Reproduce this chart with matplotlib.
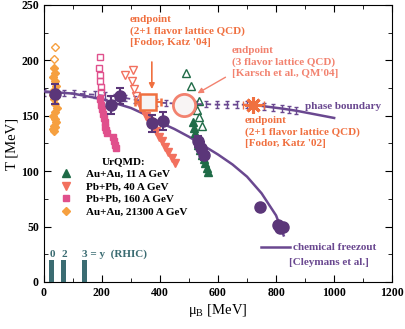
import numpy as np
import matplotlib
matplotlib.use("Agg")
import matplotlib.pyplot as plt
from matplotlib.lines import Line2D

plt.rcParams['font.family'] = ['Liberation Serif', 'DejaVu Serif']
plt.rcParams['font.weight'] = 'bold'
plt.rcParams['mathtext.fontset'] = 'custom'
plt.rcParams['mathtext.rm'] = 'Liberation Serif:bold'

# colours
PURPLE = '#5b3679'
LINE_PURPLE = '#6a4890'
GREEN = '#1f6b47'
RED = '#f2705e'
PINK = '#e0508c'
ORANGE = '#f6a040'
TEAL = '#3b6c72'
ENDPT = '#f07040'
KARSCH = '#f2826f'

# UrQMD Au+Au 21300 A GeV (RHIC)
rhic_open_mu = [38, 35]
rhic_open_T = [212, 201]
rhic_mu = [35, 40, 32, 38, 43, 36, 30, 34, 40, 44, 38, 33, 37, 42, 36, 31, 35, 40]
rhic_T = [193, 189, 185, 181, 177, 173, 169, 165, 161, 157, 153, 150, 147, 144, 141, 138, 136, 140]

# UrQMD Pb+Pb 160 A GeV
sps160_open_mu = [193, 189, 193, 195, 196, 196]
sps160_open_T = [203, 193, 187, 181, 176, 171]
sps160_mu = [195, 197, 200, 203, 206, 209, 212, 215, 218, 238, 241, 244, 247]
sps160_T = [165, 160, 156, 152, 148, 144, 140, 137, 134, 131, 127, 124, 121]

# UrQMD Pb+Pb 40 A GeV
sps40_open_mu = [279, 308, 303, 309, 318]
sps40_open_T = [187, 191, 181, 174, 168]
sps40_mu = [330, 341, 352, 363, 374, 385, 396, 407, 418, 429, 440, 451]
sps40_T = [160, 155, 150, 145, 141, 136, 131, 127, 122, 117, 112, 107]

# UrQMD Au+Au 11 A GeV
ags_open_mu = [490, 507, 533, 527, 536, 545]
ags_open_T = [189, 177, 163, 155, 149, 141]
ags_mu = [514, 516, 520, 526, 532, 538, 544, 550, 556, 562, 567]
ags_T = [144, 139, 134, 129, 124, 119, 115, 111, 107, 103, 99]

# chemical freeze-out points
fo_mu = [38, 232, 262, 372, 410, 532, 542, 552, 745, 805, 815, 825]
fo_T = [170, 160, 168, 143, 145, 127, 121, 115, 68, 51, 49, 50]
fo_err = [9, 8, 7, 8, 8, 5, 5, 5, 0, 0, 0, 0]

# chemical freeze-out curve [Cleymans et al.]
cf_mu = [0, 100, 200, 300, 350, 400, 450, 500, 550, 600, 650, 700, 750, 800, 826]
cf_T = [172, 170, 165, 157, 151, 144, 138, 131, 123, 115, 106, 95, 80, 60, 42]

# phase boundary (lattice)
pb_mu = [0, 35, 70, 105, 140, 175, 210, 245, 280, 315, 350, 385, 420, 455, 490,
         525, 560, 595, 630, 665, 700, 725]
pb_T = [171, 171, 170.5, 170, 169.5, 169, 168, 167, 166, 164.5, 163, 162, 161.5, 161, 160.5,
        160.5, 160.5, 160, 160, 160, 160, 160]
pb2_mu = [725, 760, 790, 820, 845, 870, 1000]
pb2_T = [160, 158.5, 157.5, 156.5, 155.5, 154.5, 148]

# critical endpoints
fk04 = (360, 162, 45)
karsch = (483, 160)
fk02 = (722, 160, 35)

# RHIC rapidity bins
bar_mu = [25, 67, 140]
bar_T = [20, 20, 20]

fig = plt.figure(figsize=(4.06, 3.29), dpi=100)
ax = fig.add_subplot(111)
fig.subplots_adjust(left=0.108, right=0.966, top=0.985, bottom=0.143)

# phase boundary
ax.plot(pb_mu, pb_T, color=LINE_PURPLE, lw=1.3, ls=(0, (3, 2)), zorder=2)
ax.plot(pb2_mu, pb2_T, color=LINE_PURPLE, lw=1.8, zorder=2)
ax.errorbar(pb_mu[:-1] + pb2_mu[1:-1], pb_T[:-1] + pb2_T[1:-1], yerr=3, fmt='none',
            ecolor=LINE_PURPLE, elinewidth=1, capsize=1.5, capthick=1, zorder=2)

# freeze-out curve
ax.plot(cf_mu, cf_T, color=LINE_PURPLE, lw=1.8, zorder=3)

# UrQMD
ax.plot(rhic_open_mu, rhic_open_T, 'D', ms=4.5, mfc='none', mec=ORANGE, mew=1, zorder=4)
ax.plot(rhic_mu, rhic_T, 'D', ms=4.5, color=ORANGE, zorder=4)
ax.plot(sps160_open_mu, sps160_open_T, 's', ms=4.5, mfc='none', mec=PINK, mew=1, zorder=4)
ax.plot(sps160_mu, sps160_T, 's', ms=4.5, color=PINK, zorder=4)
ax.plot(sps40_open_mu, sps40_open_T, 'v', ms=6, mfc='none', mec=RED, mew=1, zorder=4)
ax.plot(sps40_mu, sps40_T, 'v', ms=6, color=RED, zorder=4)
ax.plot(ags_open_mu, ags_open_T, '^', ms=6, mfc='none', mec=GREEN, mew=1, zorder=4)
ax.plot(ags_mu, ags_T, '^', ms=6, color=GREEN, zorder=4)

# freeze-out data
ax.errorbar(fo_mu, fo_T, yerr=fo_err, fmt='o', ms=8, color=PURPLE, ecolor=PURPLE,
            elinewidth=1.5, capsize=3, capthick=1.5, zorder=5)

# endpoints
ax.errorbar(fk04[0], fk04[1], xerr=fk04[2], fmt='s', ms=11, mfc='#f6f4f4', mec=ENDPT,
            mew=1.8, ecolor=ENDPT, elinewidth=1.5, capsize=3, zorder=6)
ax.plot(karsch[0], karsch[1], 'o', ms=16, mfc='#f8f4f4', mec=KARSCH, mew=2, zorder=6)
ax.errorbar(fk02[0], fk02[1], xerr=fk02[2], fmt='none', ecolor=ENDPT,
            elinewidth=1.5, capsize=3, zorder=6)
ax.plot(fk02[0], fk02[1], marker=(8, 2, 0), ms=12, mec=ENDPT, mew=2.2, zorder=7)
ax.plot(fk02[0], fk02[1], 'o', ms=5, color=ENDPT, zorder=7)

# RHIC bins
ax.bar(bar_mu, bar_T, width=17, color=TEAL, zorder=3)
ax.text(31, 20.5, '0', color=TEAL, fontsize=8, ha='center', va='bottom')
ax.text(72, 20.5, '2', color=TEAL, fontsize=8, ha='center', va='bottom')
ax.text(131, 20.5, '3 = y  (RHIC)', color=TEAL, fontsize=8, ha='left', va='bottom')

# annotations
ax.text(297, 241, "endpoint\n(2+1 flavor lattice QCD)\n[Fodor, Katz '04]",
        color=ENDPT, fontsize=8, va='top', ha='left', linespacing=1.3)
ax.annotate('', xy=(372, 171.5), xytext=(372, 201),
            arrowprops=dict(arrowstyle='-|>', color=ENDPT, lw=1.2, mutation_scale=8))
ax.text(648, 213, "endpoint\n(3 flavor lattice QCD)\n[Karsch et al., QM'04]",
        color=KARSCH, fontsize=8, va='top', ha='left', linespacing=1.3)
ax.annotate('', xy=(521, 169), xytext=(634, 186),
            arrowprops=dict(arrowstyle='-|>', color=KARSCH, lw=1, mutation_scale=8))
ax.text(693, 150, "endpoint\n(2+1 flavor lattice QCD)\n[Fodor, Katz '02]",
        color=ENDPT, fontsize=8, va='top', ha='left', linespacing=1.3)
ax.text(900, 158, 'phase boundary', color=LINE_PURPLE, fontsize=8, va='center')

ax.plot([748, 848], [31.5, 31.5], color=LINE_PURPLE, lw=1.8)
ax.text(859, 31.5, 'chemical freezout', color=LINE_PURPLE, fontsize=8, va='center')
ax.text(845, 18, '[Cleymans et al.]', color=LINE_PURPLE, fontsize=8, va='center')

# legend
handles = [
    Line2D([], [], ls='none', marker='^', ms=6, color=GREEN),
    Line2D([], [], ls='none', marker='v', ms=6, color=RED),
    Line2D([], [], ls='none', marker='s', ms=4.5, color=PINK),
    Line2D([], [], ls='none', marker='D', ms=4.5, color=ORANGE),
]
labels = ['Au+Au, 11 A GeV', 'Pb+Pb, 40 A GeV', 'Pb+Pb, 160 A GeV', 'Au+Au, 21300 A GeV']
leg = ax.legend(handles, labels, title='UrQMD:', loc='upper left', bbox_to_anchor=(0.035, 0.465),
                frameon=False, fontsize=8, title_fontsize=8, handlelength=1, handletextpad=1.3,
                labelspacing=0.25, borderaxespad=0)
leg.get_title().set_fontweight('bold')

ax.set_xlim(0, 1200)
ax.set_ylim(0, 250)
ax.set_xticks(np.arange(0, 1201, 200))
ax.set_xticks(np.arange(0, 1201, 100), minor=True)
ax.set_yticks(np.arange(0, 251, 50))
ax.set_yticks(np.arange(0, 251, 25), minor=True)
ax.tick_params(which='both', direction='in', top=True, right=True, labelsize=8.5)
ax.tick_params(which='major', length=5)
ax.tick_params(which='minor', length=3)
ax.set_xlabel(r'μ$_\mathregular{B}$ [MeV]', fontsize=10.5, labelpad=2)
ax.set_ylabel('T [MeV]', fontsize=10.5, labelpad=2)

fig.savefig('out.png', dpi=100)
